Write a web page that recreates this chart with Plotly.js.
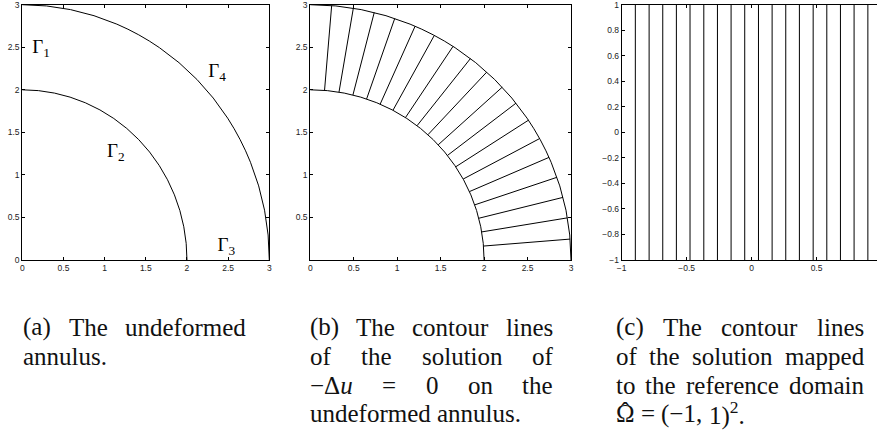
<!DOCTYPE html>
<html>
<head>
<meta charset="utf-8">
<script src="https://cdn.plot.ly/plotly-3.0.1.min.js"></script>
<style>
html,body{margin:0;padding:0;overflow:hidden;background:#fff;}
#chart{width:882px;height:453px;margin-top:-20px;}
</style>
</head>
<body>
<div id="chart"></div>
<script>
// ---------- data ----------
const innerRadius = 2;
const outerRadius = 3;
// polar angles (degrees, from the x-axis) of the contour lines in panel (b)
const contourAngles = [4.7, 9.5, 14.2, 18.9, 23.7, 28.4, 33.2, 37.9, 42.6, 47.4, 52.1, 56.8, 61.6, 66.3, 71.1, 75.8, 80.5, 85.3];
// x-positions of the mapped contour lines in panel (c)
const refLinesX = [-0.895, -0.789, -0.684, -0.579, -0.474, -0.368, -0.263, -0.158, -0.053, 0.053, 0.158, 0.263, 0.368, 0.474, 0.579, 0.684, 0.789, 0.895];
const refYRange = [-1, 1];
// boundary labels in panel (a)
const gammaLabels = ['Γ<sub>1</sub>', 'Γ<sub>2</sub>', 'Γ<sub>3</sub>', 'Γ<sub>4</sub>'];
const gammaX = [0.12, 1.03, 2.37, 2.26];
const gammaY = [2.49, 1.27, 0.165, 2.21];
// ticks
const annulusXTicks = [0, 0.5, 1, 1.5, 2, 2.5, 3];
const annulusYTicksA = [0, 0.5, 1, 1.5, 2, 2.5, 3];
const annulusYTicksB = [0.5, 1, 1.5, 2, 2.5, 3];
const refXTicks = [-1, -0.5, 0, 0.5, 1];
const refYTicks = [-1, -0.8, -0.6, -0.4, -0.2, 0, 0.2, 0.4, 0.6, 0.8, 1];
// captions
const captionA = ['(a) The undeformed', 'annulus.'];
const captionB = ['(b) The contour lines', 'of the solution of', '−Δ<i>u</i> = 0 on the', 'undeformed annulus.'];
const captionC = ['(c) The contour lines', 'of the solution mapped', 'to the reference domain', 'Ω = (−1, 1)<sup>2</sup>.'];

// ---------- layout geometry (px, measured from the visible top-left) ----------
const TOP = 20;
const W = 882, H = 433 + TOP;
const px = v => v / W;
const py = v => (H - (v + TOP)) / H;

// ---------- traces ----------
const cx = [], cy = [];
contourAngles.forEach(a => {
  const t = a * Math.PI / 180;
  cx.push(innerRadius * Math.cos(t), outerRadius * Math.cos(t), null);
  cy.push(innerRadius * Math.sin(t), outerRadius * Math.sin(t), null);
});
const rx = [], ry = [];
refLinesX.forEach(x => { rx.push(x, x, null); ry.push(refYRange[0], refYRange[1], null); });

const traces = [
  {type:'scatter', mode:'text', x:gammaX, y:gammaY, text:gammaLabels, textposition:'middle right',
   textfont:{family:'Liberation Serif', size:19, color:'#000'}, xaxis:'x', yaxis:'y', hoverinfo:'skip', cliponaxis:false},
  {type:'scatter', mode:'lines', x:cx, y:cy, line:{color:'#000', width:1}, xaxis:'x2', yaxis:'y2', hoverinfo:'skip'},
  {type:'scatter', mode:'lines', x:rx, y:ry, line:{color:'#000', width:1}, xaxis:'x3', yaxis:'y3', hoverinfo:'skip'}
];

function axis(domain, range, tickvals, anchor) {
  return {domain, range, tickvals, anchor, ticks:'inside', ticklen:3, tickwidth:1, tickcolor:'#000',
    showline:true, linecolor:'#000', linewidth:1, mirror:'ticks', showgrid:false, zeroline:false,
    tickfont:{family:'Liberation Sans', size:8.5, color:'#222'}, fixedrange:true, automargin:false};
}
const yDom = [py(260), py(4.7)];

const shapes = [];
[['x','y'],['x2','y2']].forEach(([xr, yr]) => {
  [innerRadius, outerRadius].forEach(r => {
    shapes.push({type:'circle', xref:xr, yref:yr, x0:-r, x1:r, y0:-r, y1:r, line:{color:'#000', width:1}, layer:'above'});
  });
});

// ---------- captions (justified) ----------
const ctx = document.createElement('canvas').getContext('2d');
const capSize = 25;
ctx.font = capSize + 'px "Liberation Serif"';
const strip = s => s.replace(/<[^>]+>/g, '');
const annotations = [];
function addCaption(lines, left, right, firstBaseline, lead) {
  lines.forEach((line, i) => {
    const words = line.split(' ');
    const widths = words.map(w => ctx.measureText(strip(w)).width);
    const total = widths.reduce((a, b) => a + b, 0);
    const last = i === lines.length - 1;
    const gap = (!last && words.length > 1) ? (right - left - total) / (words.length - 1) : ctx.measureText(' ').width;
    let x = left;
    const base = firstBaseline + i * lead;
    words.forEach((w, j) => {
      annotations.push({xref:'paper', yref:'paper', x:px(x), y:py(base - 0.3375 * capSize), xanchor:'left', yanchor:'middle',
        text:w, showarrow:false, borderpad:0, borderwidth:0,
        font:{family:'Liberation Serif', size:capSize, color:'#111'}});
      if (w === 'Ω') {
        // circumflex accent over the Omega
        annotations.push({xref:'paper', yref:'paper', x:px(x + widths[j] / 2), y:py(base - 0.3375 * capSize - 2), xanchor:'center', yanchor:'middle',
          text:'ˆ', showarrow:false, borderpad:0, borderwidth:0,
          font:{family:'Liberation Serif', size:capSize, color:'#111'}});
      }
      x += widths[j] + gap;
    });
  });
}
addCaption(captionA, 23, 246, 335.7, 28.9);
addCaption(captionB, 310, 553, 335.7, 28.9);
addCaption(captionC, 616, 864, 335.7, 28.9);

const layout = {
  width:W, height:H, margin:{l:0, r:0, t:0, b:0}, showlegend:false,
  paper_bgcolor:'#fff', plot_bgcolor:'#fff',
  xaxis: axis([px(22.3), px(269.3)], [0, 3], annulusXTicks, 'y'),
  yaxis: axis(yDom, [0, 3], annulusYTicksA, 'x'),
  xaxis2: axis([px(310.3), px(571)], [0, 3], annulusXTicks, 'y2'),
  yaxis2: axis(yDom, [0, 3], annulusYTicksB, 'x2'),
  xaxis3: axis([px(621.7), px(881.5)], [-1, 1], refXTicks, 'y3'),
  yaxis3: axis(yDom, [-1, 1], refYTicks, 'x3'),
  shapes, annotations
};
Plotly.newPlot('chart', traces, layout, {staticPlot:true, displayModeBar:false});
</script>
</body>
</html>
